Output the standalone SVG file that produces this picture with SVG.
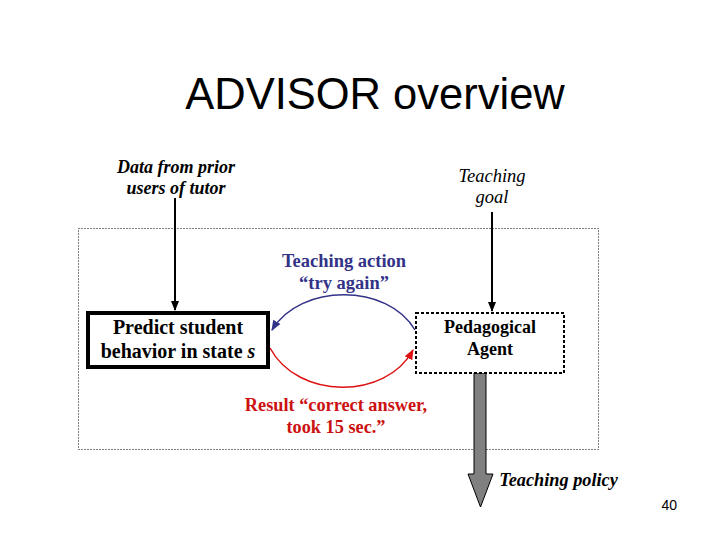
<svg xmlns="http://www.w3.org/2000/svg" width="720" height="540" viewBox="0 0 720 540">
<defs>
<style>
.t{font-family:"Liberation Serif","Times New Roman",serif;text-anchor:middle}
.b{font-weight:bold}
.i{font-style:italic}
</style>
<marker id="ak" viewBox="0 0 10 10" refX="9" refY="5" markerWidth="5" markerHeight="5" orient="auto"><path d="M0,1L10,5L0,9z" fill="#000"/></marker>
<marker id="ab" viewBox="0 0 10 10" refX="9" refY="5" markerWidth="7" markerHeight="7" orient="auto"><path d="M0,1L10,5L0,9z" fill="#333388"/></marker>
<marker id="ar" viewBox="0 0 10 10" refX="9" refY="5" markerWidth="7" markerHeight="7" orient="auto"><path d="M0,1L10,5L0,9z" fill="#dd1111"/></marker>
</defs>
<rect width="720" height="540" fill="#fff"/>
<text x="375" y="109" font-family="Liberation Sans,Arial,sans-serif" font-size="43.5" text-anchor="middle">ADVISOR overview</text>
<rect id="frame" x="78.5" y="228.5" width="520" height="221" fill="none" stroke="#000" stroke-width="1" stroke-dasharray="1,2"/>
<g id="connectors">
<line x1="175" y1="198" x2="175" y2="310" stroke="#000" stroke-width="2" marker-end="url(#ak)"/>
<line x1="492" y1="212" x2="492" y2="311" stroke="#000" stroke-width="2" marker-end="url(#ak)"/>
<path d="M415,330 C388,283 300,283 272,330" fill="none" stroke="#333388" stroke-width="1.5" marker-end="url(#ab)"/>
<path d="M270,348 C298,400 386,400 413,350" fill="none" stroke="#dd1111" stroke-width="1.5" marker-end="url(#ar)"/>
<path d="M474,373 H486 V474 H493 L480.5,507 L468,474 H474 Z" fill="#808080" stroke="#000" stroke-width="1"/>
</g>
<g id="data">
<text class="t b i" x="176" y="173" font-size="18">Data from prior</text>
<text class="t b i" x="176" y="194" font-size="18">users of tutor</text>
</g>
<g id="goal">
<text class="t i" x="492" y="182" font-size="18.5">Teaching</text>
<text class="t i" x="492" y="203" font-size="18.5">goal</text>
</g>
<g id="predict">
<rect x="88" y="313" width="180" height="54" fill="#fff" stroke="#000" stroke-width="4"/>
<text class="t b" x="178" y="334" font-size="20">Predict student</text>
<text class="t b" x="178" y="358" font-size="20">behavior in state <tspan font-style="italic">s</tspan></text>
</g>
<g id="agent">
<rect x="416" y="313" width="148" height="60" fill="#fff" stroke="#000" stroke-width="2" stroke-dasharray="3,2"/>
<text class="t b" x="490" y="333" font-size="18">Pedagogical</text>
<text class="t b" x="490" y="355" font-size="18">Agent</text>
</g>
<g id="action" fill="#333388">
<text class="t b" x="344" y="267" font-size="18.5">Teaching action</text>
<text class="t b" x="344" y="289" font-size="18.5">“try again”</text>
</g>
<g id="result" fill="#cc1111">
<text class="t b" x="336" y="411" font-size="18.3">Result “correct answer,</text>
<text class="t b" x="336" y="433" font-size="18.3">took 15 sec.”</text>
</g>
<text class="t b i" x="558.5" y="486" font-size="18.3">Teaching policy</text>
<text x="677" y="510" font-family="Liberation Sans,Arial,sans-serif" font-size="14" text-anchor="end">40</text>
</svg>
